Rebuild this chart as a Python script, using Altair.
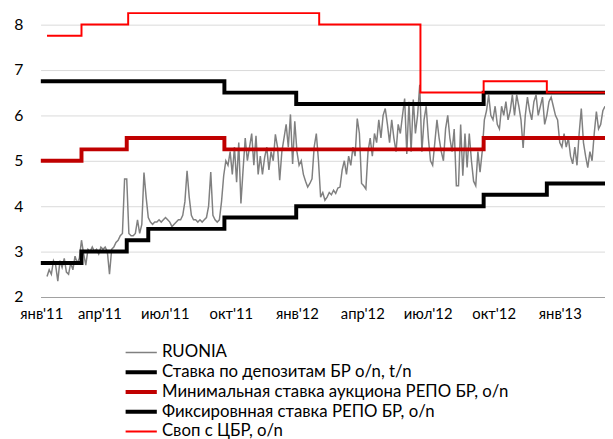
import json
import altair as alt
import pandas as pd

# ---------------- data ----------------
ruonia_start = "2011-01-18"   # first RUONIA observation, then every 3 days
ruonia = [
    2.45, 2.6, 2.5, 2.8, 2.7, 2.35, 2.8, 2.65, 2.85, 2.55, 2.5, 2.75, 2.6, 2.9, 2.75, 2.85,
    3.25, 2.95, 2.7, 3.05, 3.0, 3.1, 3.0, 3.05, 2.95, 3.1, 3.05, 3.1, 3.0, 2.5, 3.05, 3.1, 3.2, 3.25, 3.35,
    3.4, 4.6, 4.6, 3.4, 3.35, 3.35, 3.4, 3.7, 3.4, 3.6, 4.74, 4.2, 3.75, 3.65, 3.6, 3.65, 3.65, 3.7,
    3.65, 3.7, 3.75, 3.7, 3.65, 3.55, 3.6, 3.65, 3.7, 3.7, 3.8, 4.1, 4.78, 4.2, 3.8, 3.7, 3.7, 3.65,
    3.7, 3.65, 3.7, 3.75, 4.0, 4.75, 3.8, 3.7, 3.65, 3.7, 4.1, 4.67,
    5.0, 4.9, 5.2, 4.7, 5.3, 4.53, 5.4, 4.06, 4.8, 5.5, 5.0, 5.3, 5.6, 4.9, 5.55, 4.7, 5.1, 4.7,
    5.07, 5.3, 4.8, 5.2, 5.0, 5.58, 5.3, 4.57, 5.2, 5.5, 5.8, 5.3, 6.02, 4.93, 5.87, 5.2, 4.9, 5.0,
    4.7, 4.55, 4.42, 4.5, 4.6, 5.3, 5.6, 5.0, 4.2, 4.3, 4.13, 4.2, 4.3, 4.25, 4.35, 4.28, 4.4, 4.42,
    4.8, 5.0, 4.7, 5.1, 4.9, 5.3, 5.1, 5.93, 5.6, 4.5, 4.45, 4.38, 5.2, 5.5, 5.1, 5.6,
    5.4, 5.9, 5.5, 6.0, 6.15, 5.8, 5.4, 5.9, 5.5, 5.2, 5.8, 5.6, 6.0, 6.37, 5.15, 6.3, 5.2, 6.35,
    5.6, 6.0, 6.67, 5.2, 5.9, 6.2, 5.5, 5.0, 4.9, 5.4, 5.9, 5.5, 5.2, 5.0, 5.7, 6.0, 5.5, 5.2, 5.7,
    4.45, 4.45, 5.8, 4.67, 5.6, 4.85, 5.6, 5.0, 4.55, 4.45, 5.2, 4.75, 5.2,
    5.9, 6.1, 6.45, 6.0, 5.9, 6.2, 5.8, 5.7, 6.2, 6.0, 6.3, 5.9, 6.1, 6.45, 6.0, 6.45, 6.2, 5.9,
    5.28, 6.0, 6.4, 6.1, 5.9, 6.3, 6.45, 6.0, 6.2, 6.4, 5.8, 6.0, 6.3, 6.4, 6.2, 6.0, 5.9, 5.4,
    5.3, 5.6, 5.3, 5.5, 5.1, 4.93, 5.3, 4.9, 5.6, 6.15, 5.4, 5.1, 4.85, 5.2, 5.0, 5.6, 6.08, 5.7,
    5.8, 6.1, 6.2,
]

deposit_dates = ["2011-01-09", "2011-03-07", "2011-05-09", "2011-06-08", "2011-09-22",
                 "2011-12-31", "2012-09-17", "2012-12-14", "2013-03-05"]
deposit_vals = [2.75, 3.0, 3.25, 3.5, 3.75, 4.0, 4.25, 4.5, 4.5]

repo_min_dates = ["2011-01-09", "2011-03-07", "2011-05-09", "2011-09-22", "2012-09-17", "2013-03-05"]
repo_min_vals = [5.0, 5.25, 5.5, 5.25, 5.5, 5.5]

repo_fix_dates = ["2011-01-09", "2011-09-22", "2011-12-31", "2012-09-17", "2013-03-05"]
repo_fix_vals = [6.75, 6.5, 6.25, 6.5, 6.5]

swap_dates = ["2011-01-18", "2011-03-07", "2011-05-11", "2012-02-01", "2012-06-21",
              "2012-09-17", "2012-12-14", "2013-03-05"]
swap_vals = [7.75, 8.0, 8.25, 8.0, 6.5, 6.75, 6.5, 6.5]

names = [
    "RUONIA",
    "Ставка по депозитам БР o/n, t/n",
    "Минимальная ставка аукциона РЕПО БР, o/n",
    "Фиксировнная ставка РЕПО БР, o/n",
    "Своп с ЦБР, o/n",
]
colors = ["#808080", "#000000", "#C00000", "#000000", "#FF0000"]
widths = [1.5, 4, 4, 4, 2]

tick_dates = ["2011-01-10", "2011-04-01", "2011-07-01", "2011-10-01", "2012-01-01",
              "2012-04-01", "2012-07-01", "2012-10-01", "2013-01-01"]
ru_months = ["янв", "фев", "мар", "апр", "май", "июн", "июл", "авг", "сен", "окт", "ноя", "дек"]
y_ticks = [2, 3, 4, 5, 6, 7, 8]
x_domain = ["2011-01-09", "2013-03-05"]

# ---------------- frames ----------------
frames = []
frames.append(pd.DataFrame({
    "date": pd.date_range(ruonia_start, periods=len(ruonia), freq="3D"),
    "value": ruonia, "series": names[0]}))
for nm, d, v in [(names[1], deposit_dates, deposit_vals),
                 (names[2], repo_min_dates, repo_min_vals),
                 (names[3], repo_fix_dates, repo_fix_vals),
                 (names[4], swap_dates, swap_vals)]:
    frames.append(pd.DataFrame({"date": pd.to_datetime(d), "value": v, "series": nm}))
df = pd.concat(frames, ignore_index=True)


def dt(s):
    t = pd.Timestamp(s)
    return alt.DateTime(year=t.year, month=t.month, date=t.day)


FONT = "Lato"
legend = alt.Legend(
    title=None, orient="none", legendX=84, legendY=336.5,
    symbolType="stroke", symbolSize=1000, rowPadding=0, clipHeight=19.5,
    labelFont=FONT, labelFontSize=17, labelColor="#000000", labelLimit=600,
    labelOffset=3, padding=0,
)

x_enc = alt.X(
    "date:T",
    scale=alt.Scale(domain=[dt(x_domain[0]), dt(x_domain[1])]),
    axis=alt.Axis(
        title=None, values=[dt(s) for s in tick_dates], grid=False, ticks=False, tickSize=0,
        labelExpr=json.dumps(ru_months, ensure_ascii=False)
        + "[month(datum.value)] + \"'\" + timeFormat(datum.value, '%y')",
        labelFont=FONT, labelFontSize=15, labelColor="#000000", labelPadding=10,
        labelOverlap=False, labelFlush=False,
        domainColor="#A0A0A0", domainWidth=1, labelAngle=0,
    ),
)
y_enc = alt.Y(
    "value:Q",
    scale=alt.Scale(domain=[2, 8.3], nice=False, zero=False),
    axis=alt.Axis(
        title=None, values=y_ticks, grid=True, gridColor="#D9D9D9", gridWidth=1,
        ticks=False, tickSize=0, domain=False,
        labelFont=FONT, labelFontSize=16, labelColor="#000000", labelPadding=18,
    ),
)
color_enc = alt.Color("series:N", scale=alt.Scale(domain=names, range=colors), legend=legend)
width_enc = alt.StrokeWidth("series:N", scale=alt.Scale(type="ordinal", domain=names, range=widths),
                            legend=legend)

layers = []
for i, nm in enumerate(names):
    interp = "linear" if i == 0 else "step-after"
    layers.append(
        alt.Chart(df).transform_filter(alt.datum.series == nm)
        .mark_line(interpolate=interp, clip=True, strokeJoin="miter")
        .encode(x=x_enc, y=y_enc, color=color_enc, strokeWidth=width_enc)
    )

chart = alt.layer(*layers).properties(
    width=572, height=290,
    padding={"left": 33, "top": 0, "right": 0, "bottom": 141},
    autosize=alt.AutoSizeParams(type="none"),
).configure_view(stroke=None)

chart.save("out.html", embed_options={"renderer": "svg", "actions": False})
